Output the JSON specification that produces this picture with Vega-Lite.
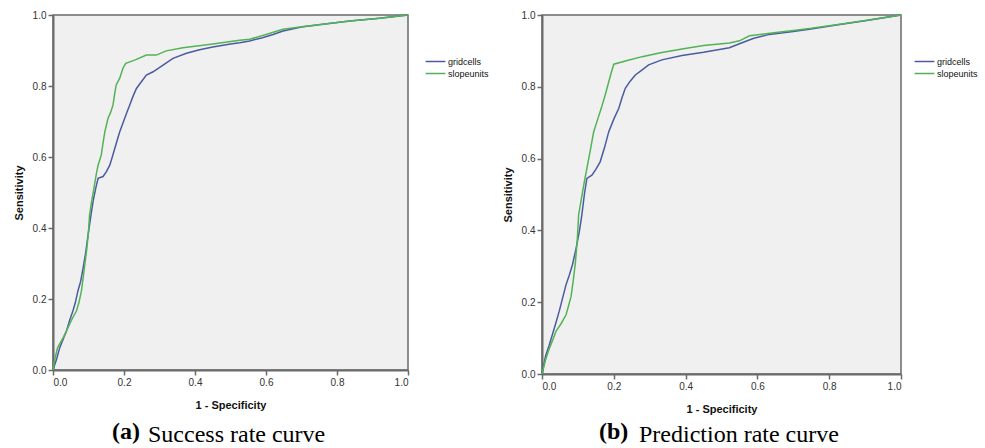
{
  "$schema": "https://vega.github.io/schema/vega-lite/v6.json",
  "background": "white",
  "padding": {"top": 9, "left": 12, "right": 0, "bottom": 0},
  "datasets": {
    "roc": [
      {"panel":"a","series":"gridcells","fpr":0,"tpr":0},
      {"panel":"a","series":"gridcells","fpr":0.01,"tpr":0.03},
      {"panel":"a","series":"gridcells","fpr":0.019,"tpr":0.063},
      {"panel":"a","series":"gridcells","fpr":0.03,"tpr":0.09},
      {"panel":"a","series":"gridcells","fpr":0.038,"tpr":0.11},
      {"panel":"a","series":"gridcells","fpr":0.047,"tpr":0.14},
      {"panel":"a","series":"gridcells","fpr":0.056,"tpr":0.166},
      {"panel":"a","series":"gridcells","fpr":0.063,"tpr":0.19},
      {"panel":"a","series":"gridcells","fpr":0.07,"tpr":0.222},
      {"panel":"a","series":"gridcells","fpr":0.078,"tpr":0.25},
      {"panel":"a","series":"gridcells","fpr":0.085,"tpr":0.288},
      {"panel":"a","series":"gridcells","fpr":0.092,"tpr":0.33},
      {"panel":"a","series":"gridcells","fpr":0.099,"tpr":0.382},
      {"panel":"a","series":"gridcells","fpr":0.106,"tpr":0.43},
      {"panel":"a","series":"gridcells","fpr":0.113,"tpr":0.476},
      {"panel":"a","series":"gridcells","fpr":0.12,"tpr":0.51},
      {"panel":"a","series":"gridcells","fpr":0.127,"tpr":0.54},
      {"panel":"a","series":"gridcells","fpr":0.135,"tpr":0.543},
      {"panel":"a","series":"gridcells","fpr":0.141,"tpr":0.545},
      {"panel":"a","series":"gridcells","fpr":0.15,"tpr":0.558},
      {"panel":"a","series":"gridcells","fpr":0.16,"tpr":0.577},
      {"panel":"a","series":"gridcells","fpr":0.167,"tpr":0.6},
      {"panel":"a","series":"gridcells","fpr":0.174,"tpr":0.624},
      {"panel":"a","series":"gridcells","fpr":0.181,"tpr":0.648},
      {"panel":"a","series":"gridcells","fpr":0.188,"tpr":0.671},
      {"panel":"a","series":"gridcells","fpr":0.195,"tpr":0.69},
      {"panel":"a","series":"gridcells","fpr":0.202,"tpr":0.709},
      {"panel":"a","series":"gridcells","fpr":0.209,"tpr":0.728},
      {"panel":"a","series":"gridcells","fpr":0.216,"tpr":0.746},
      {"panel":"a","series":"gridcells","fpr":0.225,"tpr":0.77},
      {"panel":"a","series":"gridcells","fpr":0.235,"tpr":0.793},
      {"panel":"a","series":"gridcells","fpr":0.249,"tpr":0.812},
      {"panel":"a","series":"gridcells","fpr":0.263,"tpr":0.831},
      {"panel":"a","series":"gridcells","fpr":0.282,"tpr":0.84},
      {"panel":"a","series":"gridcells","fpr":0.31,"tpr":0.859},
      {"panel":"a","series":"gridcells","fpr":0.338,"tpr":0.878},
      {"panel":"a","series":"gridcells","fpr":0.376,"tpr":0.892},
      {"panel":"a","series":"gridcells","fpr":0.413,"tpr":0.902},
      {"panel":"a","series":"gridcells","fpr":0.45,"tpr":0.91},
      {"panel":"a","series":"gridcells","fpr":0.5,"tpr":0.918},
      {"panel":"a","series":"gridcells","fpr":0.526,"tpr":0.922},
      {"panel":"a","series":"gridcells","fpr":0.554,"tpr":0.927},
      {"panel":"a","series":"gridcells","fpr":0.59,"tpr":0.936},
      {"panel":"a","series":"gridcells","fpr":0.62,"tpr":0.945},
      {"panel":"a","series":"gridcells","fpr":0.648,"tpr":0.955},
      {"panel":"a","series":"gridcells","fpr":0.7,"tpr":0.966},
      {"panel":"a","series":"gridcells","fpr":0.76,"tpr":0.974},
      {"panel":"a","series":"gridcells","fpr":0.836,"tpr":0.983},
      {"panel":"a","series":"gridcells","fpr":0.92,"tpr":0.991},
      {"panel":"a","series":"gridcells","fpr":1,"tpr":1},
      {"panel":"a","series":"slopeunits","fpr":0,"tpr":0},
      {"panel":"a","series":"slopeunits","fpr":0.004,"tpr":0.026},
      {"panel":"a","series":"slopeunits","fpr":0.013,"tpr":0.063},
      {"panel":"a","series":"slopeunits","fpr":0.028,"tpr":0.09},
      {"panel":"a","series":"slopeunits","fpr":0.038,"tpr":0.11},
      {"panel":"a","series":"slopeunits","fpr":0.047,"tpr":0.13},
      {"panel":"a","series":"slopeunits","fpr":0.057,"tpr":0.15},
      {"panel":"a","series":"slopeunits","fpr":0.066,"tpr":0.166},
      {"panel":"a","series":"slopeunits","fpr":0.073,"tpr":0.19},
      {"panel":"a","series":"slopeunits","fpr":0.08,"tpr":0.222},
      {"panel":"a","series":"slopeunits","fpr":0.085,"tpr":0.26},
      {"panel":"a","series":"slopeunits","fpr":0.09,"tpr":0.3},
      {"panel":"a","series":"slopeunits","fpr":0.095,"tpr":0.34},
      {"panel":"a","series":"slopeunits","fpr":0.1,"tpr":0.39},
      {"panel":"a","series":"slopeunits","fpr":0.103,"tpr":0.437},
      {"panel":"a","series":"slopeunits","fpr":0.108,"tpr":0.47},
      {"panel":"a","series":"slopeunits","fpr":0.115,"tpr":0.51},
      {"panel":"a","series":"slopeunits","fpr":0.122,"tpr":0.552},
      {"panel":"a","series":"slopeunits","fpr":0.127,"tpr":0.577},
      {"panel":"a","series":"slopeunits","fpr":0.136,"tpr":0.606},
      {"panel":"a","series":"slopeunits","fpr":0.141,"tpr":0.64},
      {"panel":"a","series":"slopeunits","fpr":0.146,"tpr":0.671},
      {"panel":"a","series":"slopeunits","fpr":0.155,"tpr":0.709},
      {"panel":"a","series":"slopeunits","fpr":0.162,"tpr":0.725},
      {"panel":"a","series":"slopeunits","fpr":0.169,"tpr":0.746},
      {"panel":"a","series":"slopeunits","fpr":0.174,"tpr":0.78},
      {"panel":"a","series":"slopeunits","fpr":0.178,"tpr":0.803},
      {"panel":"a","series":"slopeunits","fpr":0.188,"tpr":0.822},
      {"panel":"a","series":"slopeunits","fpr":0.197,"tpr":0.85},
      {"panel":"a","series":"slopeunits","fpr":0.205,"tpr":0.864},
      {"panel":"a","series":"slopeunits","fpr":0.23,"tpr":0.873},
      {"panel":"a","series":"slopeunits","fpr":0.263,"tpr":0.887},
      {"panel":"a","series":"slopeunits","fpr":0.291,"tpr":0.887},
      {"panel":"a","series":"slopeunits","fpr":0.319,"tpr":0.899},
      {"panel":"a","series":"slopeunits","fpr":0.366,"tpr":0.908},
      {"panel":"a","series":"slopeunits","fpr":0.394,"tpr":0.911},
      {"panel":"a","series":"slopeunits","fpr":0.45,"tpr":0.918},
      {"panel":"a","series":"slopeunits","fpr":0.526,"tpr":0.929},
      {"panel":"a","series":"slopeunits","fpr":0.554,"tpr":0.932},
      {"panel":"a","series":"slopeunits","fpr":0.6,"tpr":0.945},
      {"panel":"a","series":"slopeunits","fpr":0.648,"tpr":0.96},
      {"panel":"a","series":"slopeunits","fpr":0.7,"tpr":0.967},
      {"panel":"a","series":"slopeunits","fpr":0.76,"tpr":0.974},
      {"panel":"a","series":"slopeunits","fpr":0.836,"tpr":0.983},
      {"panel":"a","series":"slopeunits","fpr":0.92,"tpr":0.991},
      {"panel":"a","series":"slopeunits","fpr":1,"tpr":1},
      {"panel":"b","series":"gridcells","fpr":0,"tpr":0},
      {"panel":"b","series":"gridcells","fpr":0.01,"tpr":0.05},
      {"panel":"b","series":"gridcells","fpr":0.02,"tpr":0.08},
      {"panel":"b","series":"gridcells","fpr":0.029,"tpr":0.11},
      {"panel":"b","series":"gridcells","fpr":0.038,"tpr":0.14},
      {"panel":"b","series":"gridcells","fpr":0.048,"tpr":0.175},
      {"panel":"b","series":"gridcells","fpr":0.057,"tpr":0.21},
      {"panel":"b","series":"gridcells","fpr":0.067,"tpr":0.249},
      {"panel":"b","series":"gridcells","fpr":0.076,"tpr":0.275},
      {"panel":"b","series":"gridcells","fpr":0.085,"tpr":0.305},
      {"panel":"b","series":"gridcells","fpr":0.095,"tpr":0.35},
      {"panel":"b","series":"gridcells","fpr":0.104,"tpr":0.397},
      {"panel":"b","series":"gridcells","fpr":0.111,"tpr":0.443},
      {"panel":"b","series":"gridcells","fpr":0.118,"tpr":0.5},
      {"panel":"b","series":"gridcells","fpr":0.125,"tpr":0.545},
      {"panel":"b","series":"gridcells","fpr":0.139,"tpr":0.554},
      {"panel":"b","series":"gridcells","fpr":0.15,"tpr":0.57},
      {"panel":"b","series":"gridcells","fpr":0.162,"tpr":0.591},
      {"panel":"b","series":"gridcells","fpr":0.174,"tpr":0.63},
      {"panel":"b","series":"gridcells","fpr":0.186,"tpr":0.675},
      {"panel":"b","series":"gridcells","fpr":0.2,"tpr":0.71},
      {"panel":"b","series":"gridcells","fpr":0.214,"tpr":0.74},
      {"panel":"b","series":"gridcells","fpr":0.223,"tpr":0.77},
      {"panel":"b","series":"gridcells","fpr":0.232,"tpr":0.796},
      {"panel":"b","series":"gridcells","fpr":0.245,"tpr":0.815},
      {"panel":"b","series":"gridcells","fpr":0.26,"tpr":0.833},
      {"panel":"b","series":"gridcells","fpr":0.28,"tpr":0.848},
      {"panel":"b","series":"gridcells","fpr":0.297,"tpr":0.861},
      {"panel":"b","series":"gridcells","fpr":0.334,"tpr":0.875},
      {"panel":"b","series":"gridcells","fpr":0.39,"tpr":0.887},
      {"panel":"b","series":"gridcells","fpr":0.45,"tpr":0.896},
      {"panel":"b","series":"gridcells","fpr":0.522,"tpr":0.909},
      {"panel":"b","series":"gridcells","fpr":0.55,"tpr":0.92},
      {"panel":"b","series":"gridcells","fpr":0.59,"tpr":0.935},
      {"panel":"b","series":"gridcells","fpr":0.633,"tpr":0.946},
      {"panel":"b","series":"gridcells","fpr":0.7,"tpr":0.954},
      {"panel":"b","series":"gridcells","fpr":0.745,"tpr":0.96},
      {"panel":"b","series":"gridcells","fpr":0.82,"tpr":0.972},
      {"panel":"b","series":"gridcells","fpr":0.9,"tpr":0.984},
      {"panel":"b","series":"gridcells","fpr":1,"tpr":1},
      {"panel":"b","series":"slopeunits","fpr":0,"tpr":0},
      {"panel":"b","series":"slopeunits","fpr":0.01,"tpr":0.04},
      {"panel":"b","series":"slopeunits","fpr":0.02,"tpr":0.07},
      {"panel":"b","series":"slopeunits","fpr":0.03,"tpr":0.095},
      {"panel":"b","series":"slopeunits","fpr":0.039,"tpr":0.119},
      {"panel":"b","series":"slopeunits","fpr":0.053,"tpr":0.14},
      {"panel":"b","series":"slopeunits","fpr":0.067,"tpr":0.165},
      {"panel":"b","series":"slopeunits","fpr":0.074,"tpr":0.19},
      {"panel":"b","series":"slopeunits","fpr":0.081,"tpr":0.216},
      {"panel":"b","series":"slopeunits","fpr":0.087,"tpr":0.26},
      {"panel":"b","series":"slopeunits","fpr":0.093,"tpr":0.31},
      {"panel":"b","series":"slopeunits","fpr":0.098,"tpr":0.37},
      {"panel":"b","series":"slopeunits","fpr":0.102,"tpr":0.443},
      {"panel":"b","series":"slopeunits","fpr":0.11,"tpr":0.49},
      {"panel":"b","series":"slopeunits","fpr":0.117,"tpr":0.53},
      {"panel":"b","series":"slopeunits","fpr":0.125,"tpr":0.573},
      {"panel":"b","series":"slopeunits","fpr":0.134,"tpr":0.62},
      {"panel":"b","series":"slopeunits","fpr":0.144,"tpr":0.675},
      {"panel":"b","series":"slopeunits","fpr":0.153,"tpr":0.703},
      {"panel":"b","series":"slopeunits","fpr":0.165,"tpr":0.74},
      {"panel":"b","series":"slopeunits","fpr":0.176,"tpr":0.777},
      {"panel":"b","series":"slopeunits","fpr":0.186,"tpr":0.814},
      {"panel":"b","series":"slopeunits","fpr":0.193,"tpr":0.84},
      {"panel":"b","series":"slopeunits","fpr":0.2,"tpr":0.863},
      {"panel":"b","series":"slopeunits","fpr":0.24,"tpr":0.874},
      {"panel":"b","series":"slopeunits","fpr":0.279,"tpr":0.884},
      {"panel":"b","series":"slopeunits","fpr":0.33,"tpr":0.895},
      {"panel":"b","series":"slopeunits","fpr":0.39,"tpr":0.905},
      {"panel":"b","series":"slopeunits","fpr":0.45,"tpr":0.915},
      {"panel":"b","series":"slopeunits","fpr":0.522,"tpr":0.922},
      {"panel":"b","series":"slopeunits","fpr":0.55,"tpr":0.928},
      {"panel":"b","series":"slopeunits","fpr":0.578,"tpr":0.942},
      {"panel":"b","series":"slopeunits","fpr":0.64,"tpr":0.95},
      {"panel":"b","series":"slopeunits","fpr":0.7,"tpr":0.957},
      {"panel":"b","series":"slopeunits","fpr":0.75,"tpr":0.963},
      {"panel":"b","series":"slopeunits","fpr":0.82,"tpr":0.973},
      {"panel":"b","series":"slopeunits","fpr":0.9,"tpr":0.985},
      {"panel":"b","series":"slopeunits","fpr":1,"tpr":1}
    ]
  },
  "config": {
    "view": {"fill": "#f0f0f0", "stroke": "#6a6a6a", "strokeWidth": 1.5},
    "axis": {
      "domainColor": "#6a6a6a", "domainWidth": 2,
      "tickColor": "#6a6a6a", "tickWidth": 1.5, "tickSize": 5,
      "labelFont": "Liberation Sans", "labelFontSize": 10, "labelColor": "#333",
      "titleFont": "Liberation Sans", "titleFontSize": 11, "titleFontWeight": "bold", "titleColor": "#111",
      "grid": false
    },
    "legend": {
      "labelFont": "Liberation Sans", "labelFontSize": 9, "labelColor": "#111",
      "symbolType": "M-1.8,0H1.8", "symbolSize": 121, "symbolStrokeWidth": 1.5,
      "rowPadding": 0, "labelOffset": 6
    },
    "concat": {"spacing": 12}
  },
  "resolve": {"legend": {"color": "independent"}},
  "hconcat": [
    {
      "title": {"text": "Success rate curve", "orient": "bottom", "anchor": "start", "frame": "group", "font": "Liberation Serif", "fontSize": 24, "fontWeight": "normal", "color": "#000", "offset": 0, "dx": 95, "dy": -22},
      "vconcat": [
        {
          "title": {"text": "(a)", "orient": "bottom", "anchor": "start", "frame": "group", "font": "Liberation Serif", "fontSize": 24, "fontWeight": "bold", "color": "#000", "offset": 10, "dx": 59},
          "width": 355, "height": 355,
          "data": {"name": "roc"},
          "transform": [{"filter": "datum.panel == 'a'"}],
          "mark": {"type": "line", "strokeWidth": 1.5},
          "encoding": {
            "x": {"field": "fpr", "type": "quantitative", "scale": {"domain": [0, 1], "nice": false}, "axis": {"title": "1 - Specificity", "values": [0, 0.2, 0.4, 0.6, 0.8, 1], "format": ".1f", "titlePadding": 12}},
            "y": {"field": "tpr", "type": "quantitative", "scale": {"domain": [0, 1], "nice": false}, "axis": {"title": "Sensitivity", "values": [0, 0.2, 0.4, 0.6, 0.8, 1], "format": ".1f", "titlePadding": 8}},
            "color": {"field": "series", "type": "nominal", "scale": {"domain": ["gridcells", "slopeunits"], "range": ["#4a5ba0", "#52b356"]}, "legend": {"title": null, "orient": "none", "legendX": 376, "legendY": 40}}
          }
        }
      ]
    },
    {
      "title": {"text": "Prediction rate curve", "orient": "bottom", "anchor": "start", "frame": "group", "font": "Liberation Serif", "fontSize": 24, "fontWeight": "normal", "color": "#000", "offset": 0, "dx": 97, "dy": -22},
      "vconcat": [
        {
          "title": {"text": "(b)", "orient": "bottom", "anchor": "start", "frame": "group", "font": "Liberation Serif", "fontSize": 24, "fontWeight": "bold", "color": "#000", "offset": 6, "dx": 57},
          "width": 359, "height": 359,
          "data": {"name": "roc"},
          "transform": [{"filter": "datum.panel == 'b'"}],
          "mark": {"type": "line", "strokeWidth": 1.5},
          "encoding": {
            "x": {"field": "fpr", "type": "quantitative", "scale": {"domain": [0, 1], "nice": false}, "axis": {"title": "1 - Specificity", "values": [0, 0.2, 0.4, 0.6, 0.8, 1], "format": ".1f", "titlePadding": 12}},
            "y": {"field": "tpr", "type": "quantitative", "scale": {"domain": [0, 1], "nice": false}, "axis": {"title": "Sensitivity", "values": [0, 0.2, 0.4, 0.6, 0.8, 1], "format": ".1f", "titlePadding": 8}},
            "color": {"field": "series", "type": "nominal", "scale": {"domain": ["gridcells", "slopeunits"], "range": ["#4a5ba0", "#52b356"]}, "legend": {"title": null, "orient": "none", "legendX": 376, "legendY": 40}}
          }
        }
      ]
    }
  ]
}
